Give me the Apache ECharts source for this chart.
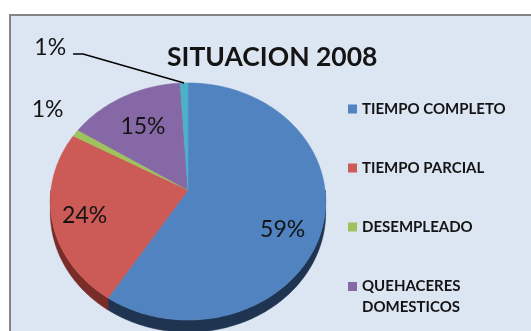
<!DOCTYPE html>
<html>
<head>
<meta charset="utf-8">
<script src="https://cdn.jsdelivr.net/npm/echarts@6/dist/echarts.min.js"></script>
<style>
  html, body { margin: 0; padding: 0; background: #ffffff; }
  #chart { width: 531px; height: 331px; }
</style>
</head>
<body>
<div id="chart"></div>
<script>
// Employment situation, 2008 (share of people, %)
const TITLE = 'SITUACION 2008';
const CATEGORIES = ['TIEMPO COMPLETO', 'TIEMPO PARCIAL', 'DESEMPLEADO', 'QUEHACERES DOMESTICOS', 'OTROS'];
const VALUES = [59, 24, 1, 15, 1];
const LEGEND_TOP = ['TIEMPO COMPLETO', 'TIEMPO PARCIAL', 'DESEMPLEADO'];
const LEGEND_BOTTOM = ['QUEHACERES DOMESTICOS'];

// Styling
const COLORS = ['#5083c0', '#cc5a56', '#9fc25d', '#8768a6', '#4db0c9'];
const SIDE_COLORS = ['#1f3451', '#7a2c29', '#5f7a33', '#4e3a66', '#2b6f80'];
const FONT = 'Lato';
const TEXT_COLOR = '#141414';

// Tilted pie geometry: centre, radii, perspective strength and wall depth
const PIE = { cx: 188, cy: 190, rx: 137, ry: 117.4, k: 0.097, depth: 11 };
// Where each percentage label sits: fraction of the radius along the slice middle, plus a nudge
const LABEL_PLACE = [
  { f: 0.70, dx: 0, dy: 16 },
  { f: 0.76, dx: 0, dy: 3 },
  { f: 1.25, dx: 0, dy: -9 },
  { f: 0.70, dx: 0, dy: 2 },
  null
];
// Leader line for the thin last slice
const LEADER = { elbow: [-101, -29], end: [-111, -29], gap: 7, dy: -6 };

const TOTAL = VALUES.reduce((a, b) => a + b, 0);

// angle measured clockwise from 12 o'clock; drop pushes the point down (pie wall)
function project(theta, drop) {
  const X = Math.sin(theta);
  const Y = Math.cos(theta);
  const p = 1 / (1 + PIE.k * Y);
  return [PIE.cx + PIE.rx * X * p, PIE.cy - PIE.ry * Y * p + (drop || 0) * p];
}

function arcPoints(s, e, drop) {
  const n = Math.max(2, Math.ceil((e - s) / (Math.PI / 180)));
  const pts = [];
  for (let j = 0; j <= n; j++) pts.push(project(s + (e - s) * j / n, drop));
  return pts;
}

function renderSlice(i, api) {
  const value = api.value(0);
  let before = 0;
  for (let j = 0; j < i; j++) before += VALUES[j];
  const s = before / TOTAL * Math.PI * 2;
  const e = (before + value) / TOTAL * Math.PI * 2;
  const color = api.visual('color');
  const children = [];

  // top face
  const top = [[PIE.cx, PIE.cy]].concat(arcPoints(s, e, 0));
  children.push({
    type: 'polygon', z2: 10,
    shape: { points: top },
    style: { fill: color, stroke: color, lineWidth: 0.6 }
  });

  // visible outer wall (front half only)
  const ws = Math.max(s, Math.PI / 2);
  const we = Math.min(e, Math.PI * 1.5);
  if (we > ws) {
    const upper = arcPoints(ws, we, 0);
    const lower = arcPoints(ws, we, PIE.depth).reverse();
    children.push({
      type: 'polygon', z2: 1,
      shape: { points: upper.concat(lower) },
      style: { fill: SIDE_COLORS[i], stroke: SIDE_COLORS[i], lineWidth: 0.6 }
    });
  }

  // percentage label
  const text = Math.round(value / TOTAL * 100) + '%';
  const mid = (s + e) / 2;
  const place = LABEL_PLACE[i];
  if (place) {
    const X = Math.sin(mid), Y = Math.cos(mid);
    const p = 1 / (1 + PIE.k * Y);
    const x = PIE.cx + PIE.rx * X * p * place.f + place.dx;
    const y = PIE.cy - PIE.ry * Y * p * place.f + place.dy;
    children.push({
      type: 'text', z2: 30,
      style: { text, x, y, align: 'center', verticalAlign: 'middle', font: '23px ' + FONT, fill: TEXT_COLOR }
    });
  } else {
    const edge = project(mid, 0);
    const elbow = [edge[0] + LEADER.elbow[0], edge[1] + LEADER.elbow[1]];
    const end = [edge[0] + LEADER.end[0], edge[1] + LEADER.end[1]];
    children.push({
      type: 'polyline', z2: 30,
      shape: { points: [edge, elbow, end] },
      style: { stroke: '#000000', lineWidth: 1.5, fill: 'none' }
    });
    children.push({
      type: 'text', z2: 30,
      style: { text, x: end[0] - LEADER.gap, y: end[1] + LEADER.dy, align: 'right', verticalAlign: 'middle', font: '23px ' + FONT, fill: TEXT_COLOR }
    });
  }
  return { type: 'group', children };
}

const chart = echarts.init(document.getElementById('chart'), null, { renderer: 'canvas' });

const series = VALUES.map((v, i) => ({
  type: 'custom',
  name: CATEGORIES[i],
  coordinateSystem: 'none',
  itemStyle: { color: COLORS[i] },
  data: [v],
  silent: true,
  renderItem: (params, api) => renderSlice(i, api)
}));

const legendText = { fontFamily: FONT, fontWeight: 'bold', fontSize: 15, color: TEXT_COLOR, lineHeight: 16 };

chart.setOption({
  backgroundColor: '#ffffff',
  animation: false,
  title: {
    text: TITLE,
    left: 167,
    top: 44,
    padding: 0,
    textStyle: { fontFamily: FONT, fontWeight: 'bold', fontSize: 26.5, lineHeight: 26, color: TEXT_COLOR }
  },
  graphic: [{
    type: 'rect', silent: true,
    shape: { x: 10, y: 15, width: 540, height: 340 },
    style: { fill: '#dce6f2', stroke: '#858585', lineWidth: 2 }
  }],
  legend: [
    {
      orient: 'vertical', left: 348, top: 101, padding: 0,
      itemWidth: 9, itemHeight: 9, itemGap: 43, icon: 'rect',
      selectedMode: false,
      data: LEGEND_TOP,
      textStyle: legendText
    },
    {
      // two-line entry: a leading blank line keeps the swatch beside the first line
      orient: 'vertical', left: 348, top: 255, padding: 0,
      itemWidth: 9, itemHeight: 9, icon: 'rect',
      selectedMode: false,
      data: LEGEND_BOTTOM,
      formatter: n => '\n' + n.replace(' ', '\n'),
      textStyle: Object.assign({}, legendText, { lineHeight: 21 })
    }
  ],
  series
});
</script>
</body>
</html>
